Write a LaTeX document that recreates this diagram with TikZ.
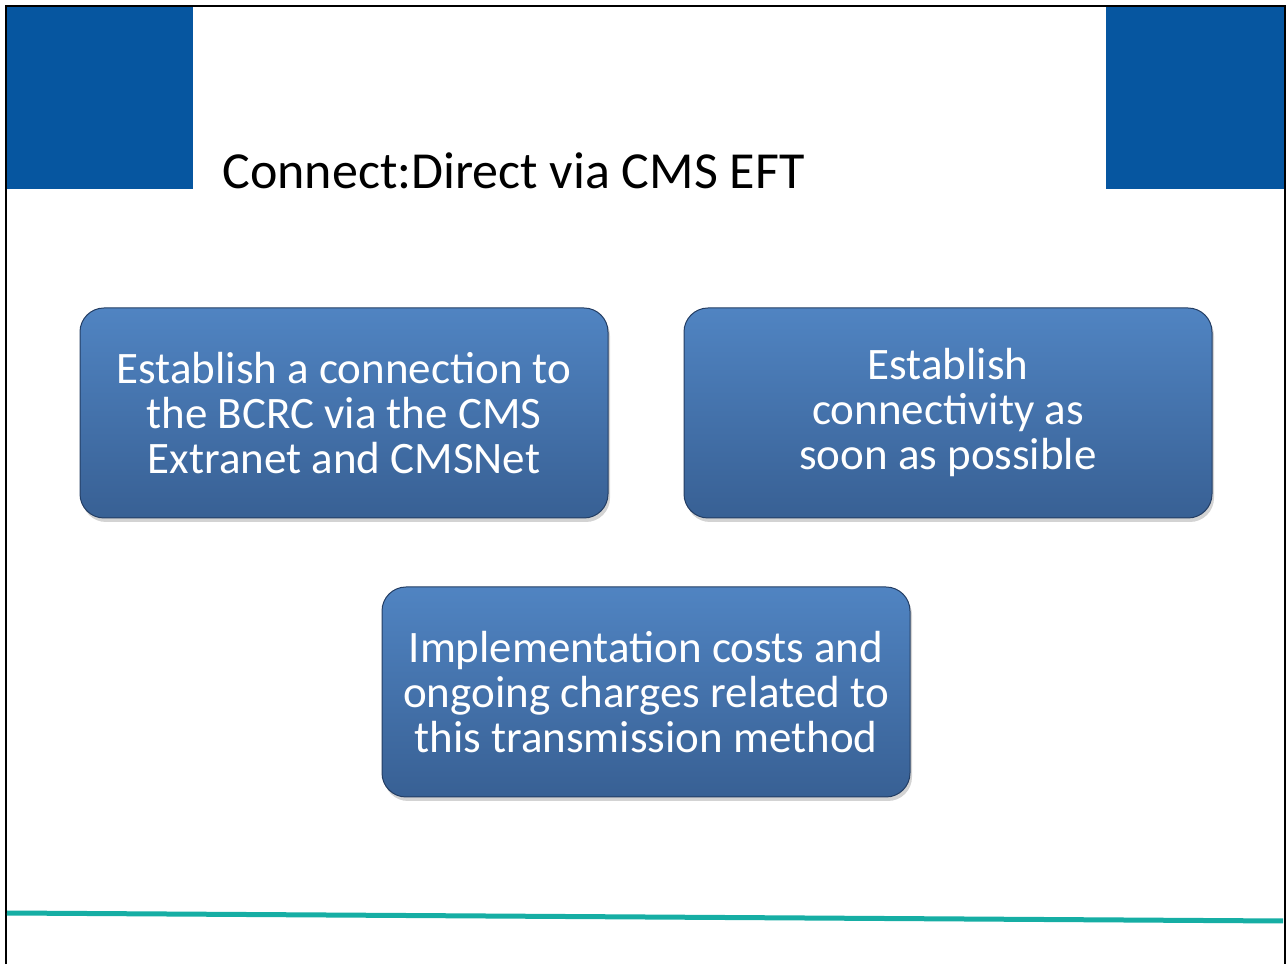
\documentclass[tikz,border=0pt]{standalone}
\usepackage{fontspec}
\setmainfont{Carlito}
\usetikzlibrary{shadows}

\definecolor{slideblue}{RGB}{6,86,160}
\definecolor{boxtop}{RGB}{80,132,194}
\definecolor{boxbottom}{RGB}{56,96,148}
\definecolor{boxedge}{RGB}{36,62,100}
\definecolor{rulecolor}{RGB}{22,174,164}

\begin{document}
\begin{tikzpicture}[x=1pt, y=1pt]
    \tikzset{
        infobox/.style={rounded corners=24pt, draw=boxedge, line width=1pt,
            top color=boxtop, bottom color=boxbottom,
            minimum width=528pt, minimum height=210pt, align=center,
            text=white, font=\fontsize{45}{45}\selectfont,
            drop shadow={opacity=0.35, shadow xshift=2pt, shadow yshift=-4pt}},
        cornerblock/.style={fill=slideblue}
    }
    \useasboundingbox (0,0) rectangle (1288,964);

    % header blocks and frame
    \fill[cornerblock] (6,775) rectangle (193,958);
    \fill[cornerblock] (1106,775) rectangle (1285,958);
    \draw[line width=1.2pt] (6,0) -- (6,958) -- (1285,958) -- (1285,0);

    \node[anchor=base west, font=\fontsize{52}{60}\selectfont] (title) at (219,775) {Connect:Direct via CMS EFT};

    \node[infobox] (link) at (344,551) {Establish a connection to\\the BCRC via the CMS\\Extranet and CMSNet};
    \node[infobox] (soon) at (948,551) {Establish\\connectivity as\\soon as possible};
    \node[infobox] (costs) at (646,272) {Implementation costs and\\ongoing charges related to\\this transmission method};

    % footer rule
    \draw[rulecolor, line width=5pt] (7,51) -- (1283,43);
\end{tikzpicture}
\end{document}
